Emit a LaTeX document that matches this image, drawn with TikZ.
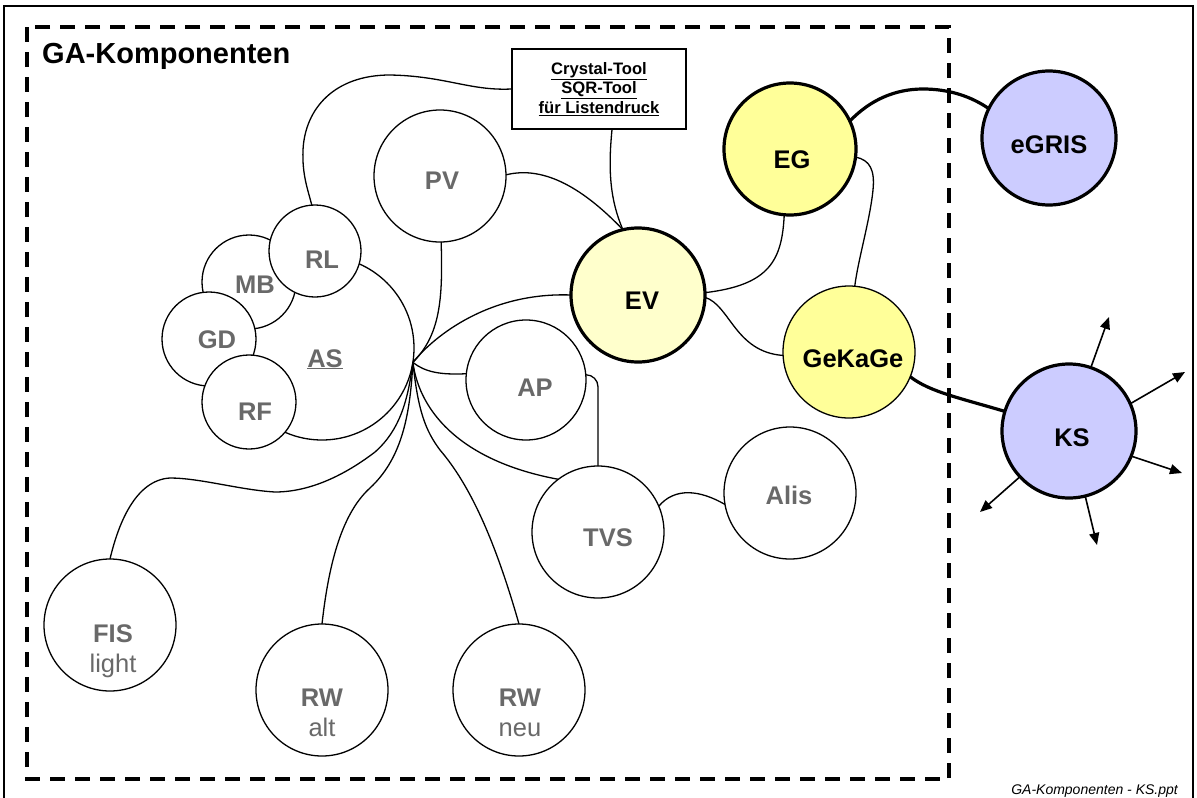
\documentclass[tikz,border=0pt]{standalone}
\usepackage{fontspec}
\setmainfont{Liberation Sans}
\usetikzlibrary{arrows.meta}
\definecolor{labgray}{RGB}{105,105,105}
\definecolor{yelA}{HTML}{FFFF99}
\definecolor{yelB}{HTML}{FFFFCC}
\definecolor{lav}{HTML}{CCCCFF}
\newcommand{\lbfont}{\fontsize{25.5}{30}\selectfont\bfseries}
\begin{document}
\begin{tikzpicture}[x=1pt,y=-1pt,
  comp/.style={circle, draw=black, fill=white, line width=1.3pt, inner sep=0pt, outer sep=0pt, minimum size=#1},
  comp/.default=132pt,
  hot/.style={comp, line width=3.2pt},
  lab/.style={font=\lbfont, text=labgray, inner sep=0pt, anchor=base},
  blab/.style={font=\lbfont, text=black, inner sep=0pt, anchor=base},
  lab2/.style={font=\lbfont, text=labgray, inner sep=0pt, align=center},
  conn/.style={draw=black, line width=1.3pt},
  tconn/.style={draw=black, line width=3.2pt},
  outarrow/.style={draw=black, line width=1.6pt, -{Triangle[length=12pt,width=10pt]}}
]
\useasboundingbox (0,0) rectangle (1197,798);
\clip (0,0) rectangle (1197,798);
% outer border
\draw[line width=1.5pt] (4,6) rectangle (1193,820);
% dashed frame
\draw[line width=4pt, dash pattern=on 15pt off 10pt] (27,27) rectangle (949,779);
\node[font=\fontsize{29}{34}\selectfont\bfseries, anchor=base west, inner sep=0pt] (title) at (42,63) {GA-Komponenten};
\node[font=\fontsize{14}{17}\selectfont\itshape, anchor=base east, inner sep=0pt] (foot) at (1178,794) {GA-Komponenten - KS.ppt};

% crystal tool box
\node[draw=black, line width=1.2pt, fill=white, minimum width=174pt, minimum height=80pt, inner sep=0pt,
      font=\fontsize{16.6}{19.5}\selectfont\bfseries, align=center] (CT) at (599,89)
  {\underline{Crystal-Tool}\\\underline{SQR-Tool}\\\underline{für Listendruck}};

% circles
\node[comp=184pt] (AS) at (322,348) {};
\node[comp=94pt] (MB) at (249,282) {};
\node[comp=92pt] (RL) at (315,251) {};
\node[comp=94pt] (GD) at (209,339) {};
\node[comp=94pt] (RF) at (249,402) {};
\node[comp] (PV) at (440,176) {};
\node[comp=120pt] (AP) at (526,380) {};
\node[comp] (TVS) at (598,532) {};
\node[comp] (Alis) at (790,493) {};
\node[comp] (FIS) at (110,625) {};
\node[comp] (RWa) at (322,690) {};
\node[comp] (RWn) at (519,690) {};
\node[hot, fill=yelB, minimum size=134pt] (EV) at (638,295) {};
\node[hot, fill=yelA] (EG) at (790,149) {};
\node[comp, fill=yelA] (GeK) at (849,352) {};
\node[hot, fill=lav, minimum size=134pt] (eGRIS) at (1049,138) {};
\node[hot, fill=lav, minimum size=134pt] (KS) at (1069,431) {};

% labels
\node[lab] (ASt) at (325,367) {\underline{AS}};
\node[lab] (MBt) at (255,293) {MB};
\node[lab] (RLt) at (322,268) {RL};
\node[lab] (GDt) at (217,348) {GD};
\node[lab] (RFt) at (255,420) {RF};
\node[lab] (PVt) at (442,189) {PV};
\node[lab] (APt) at (535,396) {AP};
\node[lab] (TVSt) at (608,546) {TVS};
\node[lab] (Alist) at (789,504) {Alis};
\node[lab2] (FISt) at (113,651) {FIS\\{\mdseries light}};
\node[lab2] (RWat) at (322,713) {RW\\{\mdseries alt}};
\node[lab2] (RWnt) at (520,713) {RW\\{\mdseries neu}};
\node[blab] (EVt) at (642,309) {EV};
\node[blab] (EGt) at (792,168) {EG};
\node[blab] (GeKt) at (853,367) {GeKaGe};
\node[blab] (eGRISt) at (1049,153) {eGRIS};
\node[blab] (KSt) at (1072,446) {KS};

% hub on AS
\coordinate (hub) at (AS.-9);

% connectors
\draw[conn] (CT.west) .. controls (470,91) and (445,76) .. (390,75)
  .. controls (335,75) and (305,108) .. (303,150)
  .. controls (302,175) and (308,190) .. (RL.94);
\draw[conn] ([xshift=13pt]CT.south) .. controls (608,170) and (610,200) .. (EV.103);
\draw[conn] (PV.1) .. controls (545,165) and (585,190) .. (EV.103);
\draw[conn] (PV.-89) .. controls (443,300) and (440,335) .. (hub);
\draw[conn] (hub) .. controls (435,335) and (490,292) .. (EV.180);
\draw[conn] (hub) .. controls (425,372) and (440,375) .. (AP.174);
\draw[conn] (hub) .. controls (420,415) and (465,462) .. (TVS.127);
\draw[conn, rounded corners=12pt] (AP.5) -| (TVS.90);
\draw[conn] (TVS.23) .. controls (675,487) and (700,490) .. (Alis.190);
\draw[conn] (hub) .. controls (408,400) and (400,430) .. (375,452)
  .. controls (345,475) and (310,492) .. (275,492)
  .. controls (240,490) and (200,478) .. (170,478)
  .. controls (135,480) and (118,525) .. (FIS.90);
\draw[conn] (hub) .. controls (410,420) and (400,460) .. (370,488)
  .. controls (340,515) and (328,570) .. (RWa.90);
\draw[conn] (hub) .. controls (418,410) and (425,430) .. (440,450)
  .. controls (470,485) and (495,540) .. (RWn.90);
\draw[conn] (EV.2) .. controls (770,285) and (782,260) .. (EG.265);
\draw[conn] (EV.-2) .. controls (730,305) and (735,352) .. (GeK.183);
\draw[conn] (EG.-7) .. controls (870,160) and (875,170) .. (873,190)
  .. controls (870,220) and (858,260) .. (GeK.85);
\draw[tconn] (EG.25) .. controls (870,100) and (895,89) .. (923,89)
  .. controls (950,89) and (972,97) .. (eGRIS.154);
\draw[tconn] (GeK.-22) .. controls (930,392) and (960,398) .. (KS.163);

% KS arrows
\coordinate (a1) at (1109,317);
\coordinate (a2) at (1185,372);
\coordinate (a3) at (1182,473);
\coordinate (a4) at (980,512);
\coordinate (a5) at (1097,545);
\draw[outarrow] (KS.71) -- (a1);
\draw[outarrow] (KS.24) -- (a2);
\draw[outarrow] (KS.-22) -- (a3);
\draw[outarrow] (KS.223) -- (a4);
\draw[outarrow] (KS.-76) -- (a5);
\end{tikzpicture}
\end{document}
